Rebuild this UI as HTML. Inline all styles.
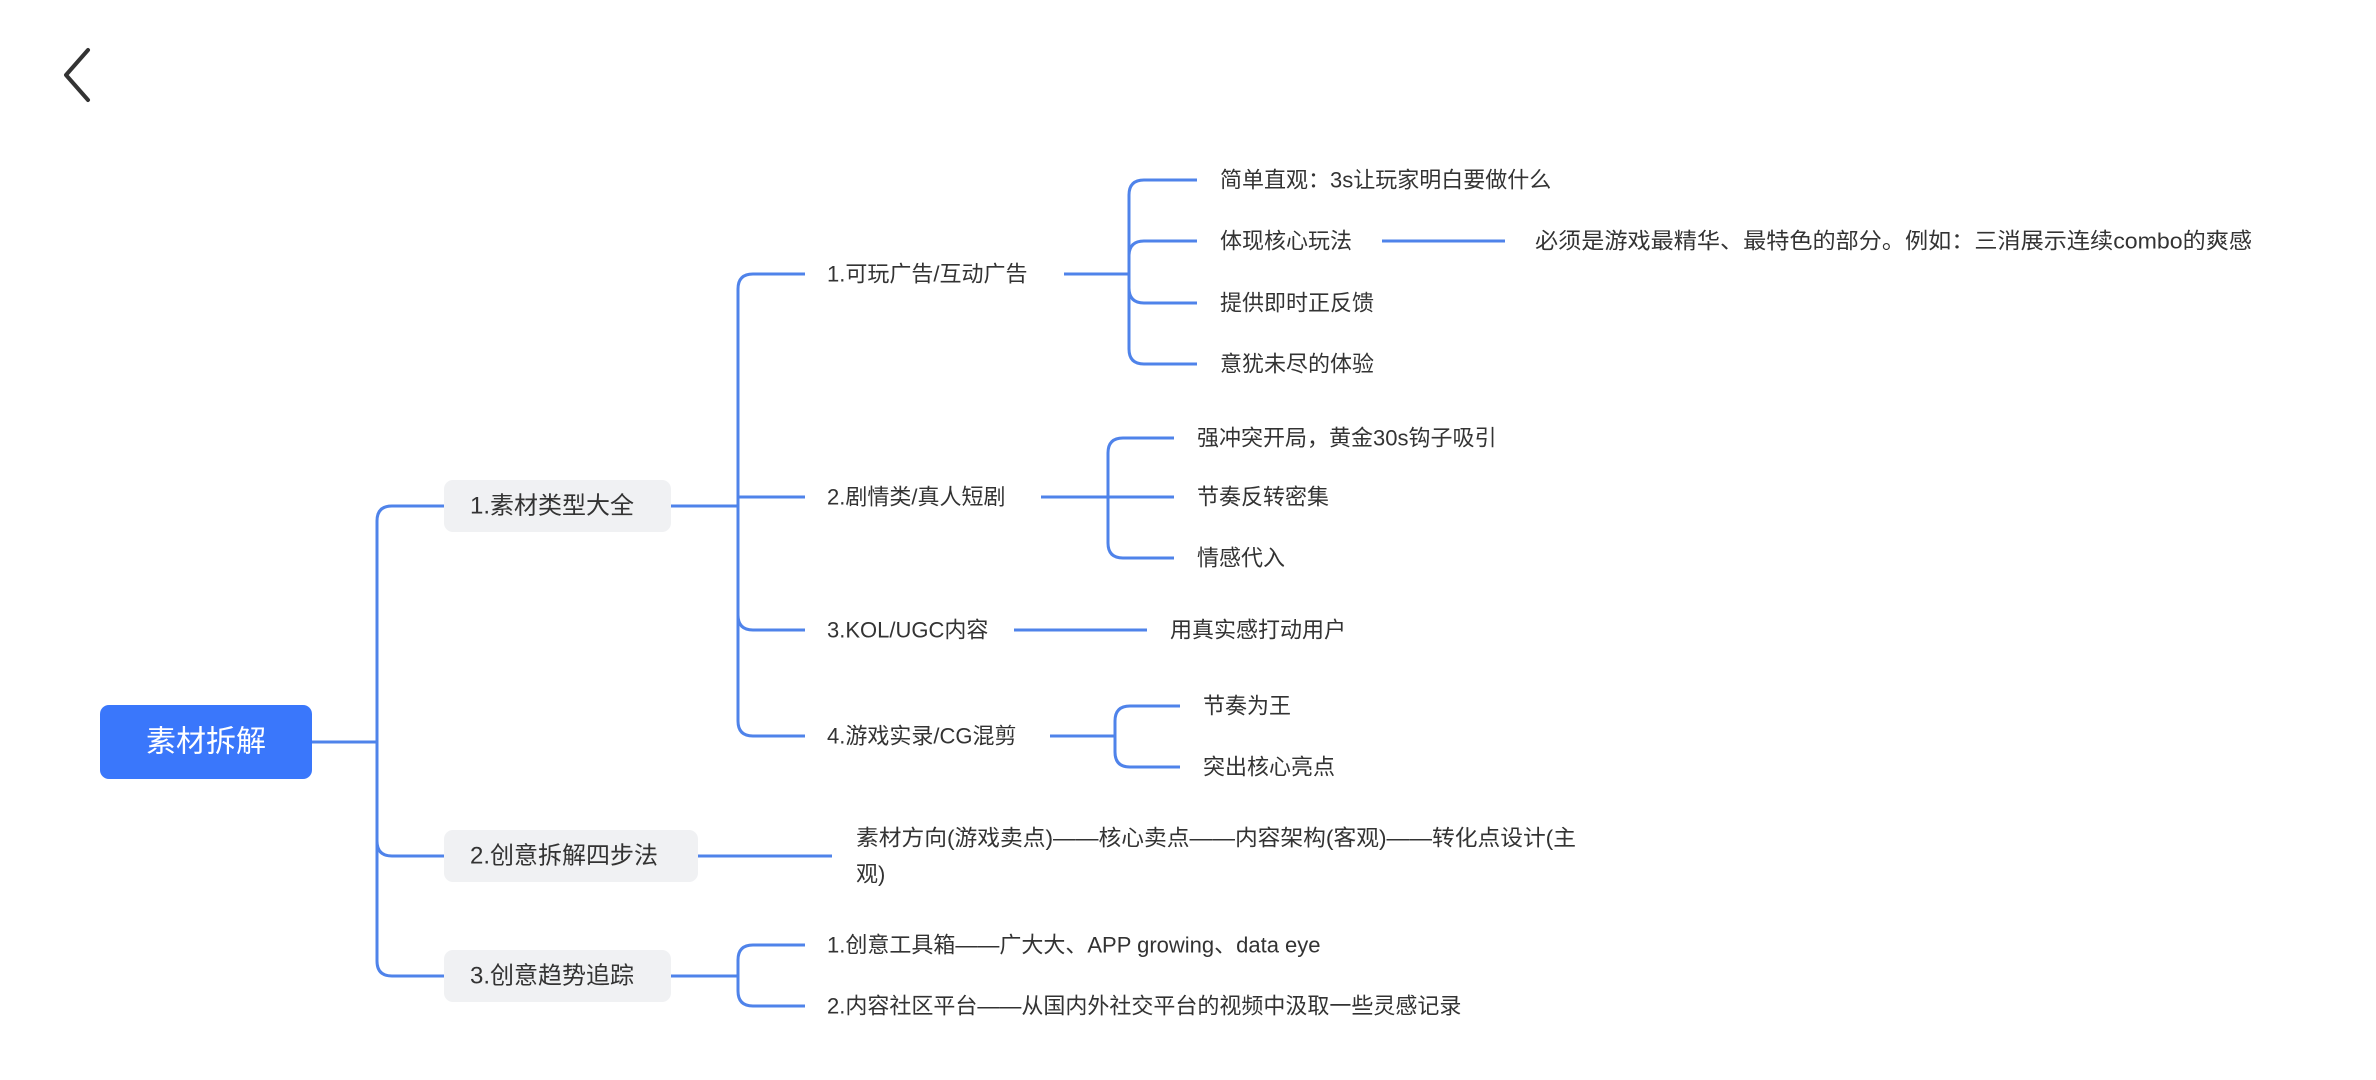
<!DOCTYPE html>
<html><head><meta charset="utf-8">
<style>
html,body{margin:0;padding:0;background:#fff;}
svg{display:block;}
text{font-family:"Liberation Sans","Noto Sans CJK SC",sans-serif;fill:#333;dominant-baseline:central;}
</style></head>
<body>
<svg width="2376" height="1080" viewBox="0 0 2376 1080" xmlns="http://www.w3.org/2000/svg">
<polyline points="88,50 66,75 88,100" fill="none" stroke="#333" stroke-width="4" stroke-linecap="round" stroke-linejoin="round"/>
<g fill="none" stroke="#4f83ea" stroke-width="3">
<path d="M312,742 H377"/>
<path d="M377,742 V521 Q377,506 392,506 H444"/>
<path d="M377,742 V841 Q377,856 392,856 H444"/>
<path d="M377,742 V961 Q377,976 392,976 H444"/>
<path d="M671,506 H738"/>
<path d="M738,506 V289 Q738,274 753,274 H805"/>
<path d="M738,506 V497 H805"/>
<path d="M738,506 V615 Q738,630 753,630 H805"/>
<path d="M738,506 V721 Q738,736 753,736 H805"/>
<path d="M1064,274 H1129"/>
<path d="M1129,274 V195 Q1129,180 1144,180 H1197"/>
<path d="M1129,274 V256 Q1129,241 1144,241 H1197"/>
<path d="M1129,274 V288 Q1129,303 1144,303 H1197"/>
<path d="M1129,274 V349 Q1129,364 1144,364 H1197"/>
<path d="M1382,241 H1505"/>
<path d="M1041,497 H1108"/>
<path d="M1108,497 V453 Q1108,438 1123,438 H1174"/>
<path d="M1108,497 H1174"/>
<path d="M1108,497 V543 Q1108,558 1123,558 H1174"/>
<path d="M1014,630 H1147"/>
<path d="M1050,736 H1115"/>
<path d="M1115,736 V721 Q1115,706 1130,706 H1180"/>
<path d="M1115,736 V752 Q1115,767 1130,767 H1180"/>
<path d="M698,856 H832"/>
<path d="M671,976 H738"/>
<path d="M738,976 V960 Q738,945 753,945 H805"/>
<path d="M738,976 V991 Q738,1006 753,1006 H805"/>
</g>
<rect x="100" y="705" width="212" height="74" rx="9" fill="#3a77fb"/>
<text x="206" y="742" font-size="30" text-anchor="middle" style="fill:#fff">素材拆解</text>
<rect x="444" y="480" width="227" height="52" rx="9" fill="#f0f1f3"/>
<text x="470" y="506" font-size="24">1.素材类型大全</text>
<rect x="444" y="830" width="254" height="52" rx="9" fill="#f0f1f3"/>
<text x="470" y="856" font-size="24">2.创意拆解四步法</text>
<rect x="444" y="950" width="227" height="52" rx="9" fill="#f0f1f3"/>
<text x="470" y="976" font-size="24">3.创意趋势追踪</text>
<g font-size="22">
<text x="827" y="274">1.可玩广告/互动广告</text>
<text x="827" y="497">2.剧情类/真人短剧</text>
<text x="827" y="630">3.KOL/UGC内容</text>
<text x="827" y="736">4.游戏实录/CG混剪</text>
<text x="1220" y="180">简单直观：3s让玩家明白要做什么</text>
<text x="1220" y="241">体现核心玩法</text>
<text x="1220" y="303">提供即时正反馈</text>
<text x="1220" y="364">意犹未尽的体验</text>
<text x="1535" y="241" textLength="717" lengthAdjust="spacingAndGlyphs">必须是游戏最精华、最特色的部分。例如：三消展示连续combo的爽感</text>
<text x="1197" y="438">强冲突开局，黄金30s钩子吸引</text>
<text x="1197" y="497">节奏反转密集</text>
<text x="1197" y="558">情感代入</text>
<text x="1170" y="630">用真实感打动用户</text>
<text x="1203" y="706">节奏为王</text>
<text x="1203" y="767">突出核心亮点</text>
<text x="856" y="838" textLength="720" lengthAdjust="spacingAndGlyphs">素材方向(游戏卖点)——核心卖点——内容架构(客观)——转化点设计(主</text>
<text x="856" y="874">观)</text>
<text x="827" y="945">1.创意工具箱——广大大、APP growing、data eye</text>
<text x="827" y="1006">2.内容社区平台——从国内外社交平台的视频中汲取一些灵感记录</text>
</g>
</svg>
</body></html>
